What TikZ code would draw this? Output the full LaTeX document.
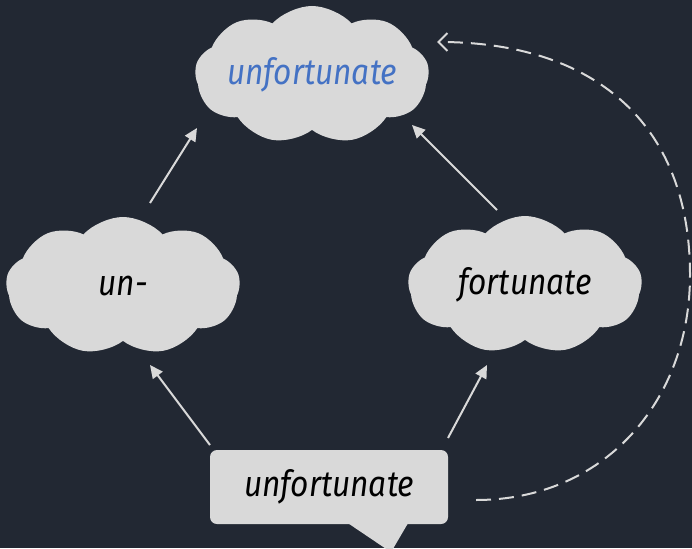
\documentclass[tikz,border=0pt]{standalone}
\usepackage{fontspec}
\setmainfont{Fira Sans}[FakeStretch=0.88]
\usetikzlibrary{shapes.symbols,arrows.meta,calc}
\definecolor{bgc}{HTML}{222833}
\definecolor{cloudc}{HTML}{D9D9D9}
\definecolor{bluec}{HTML}{4472C4}
\tikzset{
  cloudbox/.style={cloud, cloud puffs=9, cloud puff arc=95, cloud ignores aspect,
    fill=cloudc, draw=none, minimum width=234pt, minimum height=138pt, inner sep=0pt,
    font=\fontsize{36}{40}\selectfont\itshape},
  callbox/.style={rectangle, rounded corners=7pt, fill=cloudc, draw=none,
    minimum width=238pt, minimum height=74pt,
    font=\fontsize{36}{40}\selectfont\itshape},
  arr/.style={draw=cloudc, line width=2pt, -{Triangle[length=13pt,width=12pt]}},
  dasharr/.style={draw=cloudc, line width=2pt, dash pattern=on 15pt off 8pt,
    -{Straight Barb[length=9pt,width=18pt]}}
}
\begin{document}
\begin{tikzpicture}[x=1pt,y=-1pt]
\fill[bgc] (0,0) rectangle (692,548);
\useasboundingbox (0,0) rectangle (692,548);

\node[cloudbox, text=bluec] (t) at (312,75) {unfortunate};
\node[cloudbox] (l) at (123,286) {un-};
\node[cloudbox] (r) at (525,285) {fortunate};
\node[callbox] (cb) at (329,487) {unfortunate};
\fill[cloudc] ([xshift=19pt,yshift=1pt]cb.south) -- ([xshift=79pt,yshift=1pt]cb.south)
  -- ([xshift=62pt,yshift=-28pt]cb.south) -- cycle;

\draw[arr] ($(l)+(27,-83)$) -- ($(t)+(-115,53)$);
\draw[arr] ($(r)+(-28,-75)$) -- ($(t)+(100,50)$);
\draw[arr] ($(cb)+(-119,-42)$) -- ($(l)+(27,79)$);
\draw[arr] ($(cb)+(119,-49)$) -- ($(r)+(-38,80)$);

\coordinate (mid) at (690,275);
\draw[dasharr] ($(cb)+(147,13)$) to[out=0,in=-90,looseness=1.05] (mid)
  to[out=90,in=0,looseness=1.15] ($(t)+(125,-33)$);
\end{tikzpicture}
\end{document}
